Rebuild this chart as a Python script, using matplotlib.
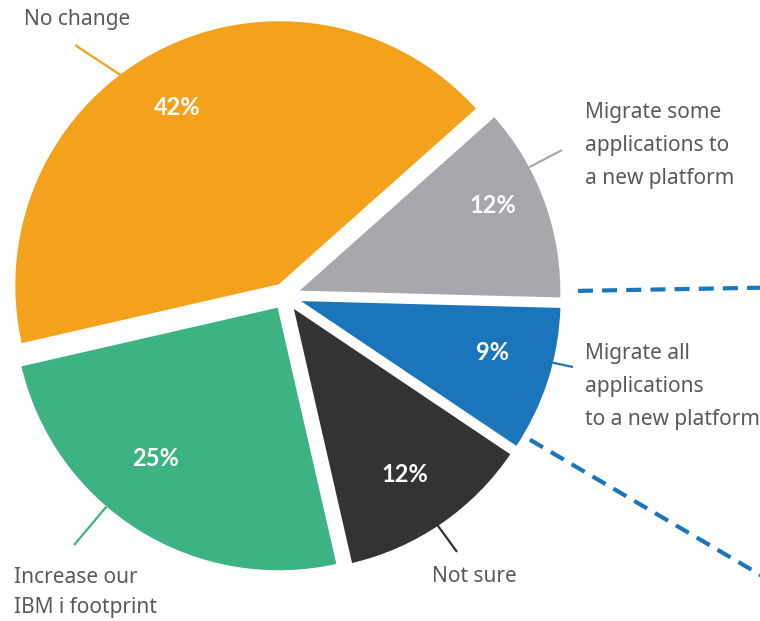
import matplotlib.pyplot as plt
import numpy as np

# data
labels = ['No change',
          'Migrate some\napplications to\na new platform',
          'Migrate all\napplications\nto a new platform',
          'Not sure',
          'Increase our\nIBM i footprint']
shares = [42, 12, 9, 12, 25]
colors = ['#F4A11C', '#A7A8AC', '#1B75BA', '#333333', '#3DB383']

text_grey = '#58595B'

# layout of the outside labels: rim angle, rim radius, leader end, text pos, alignment
rim_angle = [126.3, 27.8, -14.0, -56.4, 229.7]
rim_r = [1.03, 1.05, 1.04, 1.03, 1.05]
leader_end = [(-0.798, 0.954), (1.053, 0.555), (1.095, -0.270), (0.654, -0.973), (-0.802, -0.947)]
text_pos = [(-0.791, 1.032), (1.141, 0.574), (1.141, -0.346), (0.719, -1.087), (-1.030, -1.128)]
text_ha = ['center', 'left', 'left', 'center', 'left']
text_va = ['baseline', 'center', 'center', 'baseline', 'center']
# percentage label placement (angle, radius)
pct_angle = [119.9, 23.6, -15.1, -56.2, 231.3]
pct_r = [0.825, 0.863, 0.819, 0.819, 0.79]

plt.rcParams['font.family'] = ['Noto Sans', 'DejaVu Sans']

fig = plt.figure(figsize=(7.6, 6.21), dpi=100)
ax = fig.add_axes([0, 0, 1, 1])

wedges, texts, autotexts = ax.pie(
    shares, colors=colors, startangle=192.9, counterclock=False,
    explode=[0.045] * len(shares), radius=1.01,
    autopct=lambda p: '%.0f%%' % p,
    wedgeprops=dict(edgecolor='white', linewidth=2),
    textprops=dict(color='white', fontsize=17, fontweight='bold', family='Lato'))

for t, a, r in zip(autotexts, pct_angle, pct_r):
    t.set_position((r * np.cos(np.radians(a)), r * np.sin(np.radians(a))))
    t.set_ha('center')
    t.set_va('center')

# leader lines + outside labels
for i in range(len(labels)):
    a = np.radians(rim_angle[i])
    x0, y0 = rim_r[i] * np.cos(a), rim_r[i] * np.sin(a)
    ax.plot([x0, leader_end[i][0]], [y0, leader_end[i][1]], color=colors[i], lw=1.6,
            solid_capstyle='butt')
    lc = 1.75 if '\n' in labels[i] else 1.2
    if i == 4:
        lc = 1.6
    ax.text(text_pos[i][0], text_pos[i][1], labels[i], color=text_grey, fontsize=15,
            ha=text_ha[i], va=text_va[i], linespacing=lc)

# dashed connectors leaving the blue slice
blue = wedges[2]
x_right = 475 / 263
for ang, r0 in [(blue.theta2 + 2.5, 1.114), (blue.theta1 + 3.5, 1.08)]:
    d = np.radians(ang)
    x1 = x_right + 0.05
    r1 = x1 / np.cos(d)
    ax.plot([r0 * np.cos(d), r1 * np.cos(d)], [r0 * np.sin(d), r1 * np.sin(d)],
            color='#1B75BA', lw=3, linestyle=(0, (3.6, 2.2)))

ax.set_xlim(-285 / 263, 475 / 263)
ax.set_ylim(-(621 - 296) / 263, 296 / 263)
ax.axis('off')

plt.savefig('out.png', dpi=100)
